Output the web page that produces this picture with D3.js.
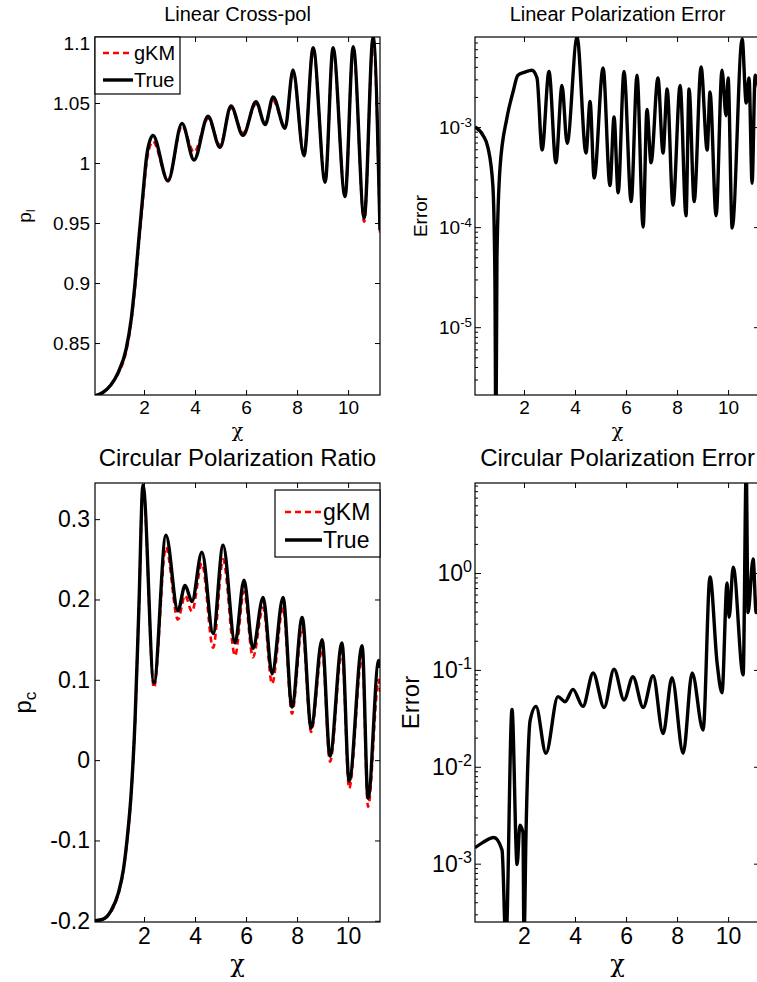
<!DOCTYPE html>
<html lang="en">
<head>
<meta charset="UTF-8">
<title>Linear / circular polarization</title>
<script src="https://d3js.org/d3.v7.min.js"></script>
<style>
    body { margin: 0; background: #fff; }
    svg { display: block; font-family: 'Liberation Sans', Arial, sans-serif; }
    .box { fill: none; stroke: #000; stroke-width: 1.2px; }
    .tick line { stroke: #000; stroke-width: 1px; }
    .true-line { fill: none; stroke: #000; stroke-width: 3.4px; stroke-linejoin: round; }
    .gkm-line { fill: none; stroke: #ff0000; stroke-width: 2.6px; stroke-dasharray: 6,4; }
</style>
</head>
<body>
<svg width="757" height="982"></svg>
<script>
// --- data ---
const chiLin = [0.08, 0.4, 0.7, 1.0, 1.3, 1.5, 1.65, 1.8, 1.95, 2.12, 2.35, 2.94, 3.49, 3.96, 4.51, 4.98, 5.41, 5.88,
    6.39, 6.75, 7.06, 7.53, 7.84, 8.27, 8.63, 9.1, 9.41, 9.88, 10.2, 10.63, 10.98, 11.25];
const linTrue = [0.806, 0.809, 0.815, 0.826, 0.845, 0.87, 0.9, 0.937, 0.972, 1.008, 1.023, 0.985, 1.033, 1.0025, 1.039, 1.013,
    1.0475, 1.023, 1.051, 1.032, 1.055, 1.029, 1.0775, 1.006, 1.096, 0.984, 1.096, 0.972, 1.097, 0.954, 1.105, 0.944];
const linGkm = [0.806, 0.809, 0.815, 0.825, 0.843, 0.868, 0.897, 0.933, 0.968, 1.003, 1.018, 0.986, 1.031, 1.009, 1.037, 1.015,
    1.046, 1.025, 1.049, 1.033, 1.052, 1.03, 1.076, 1.007, 1.095, 0.985, 1.095, 0.972, 1.096, 0.951, 1.104, 0.942];

const chiLinErr = [0.08, 0.39, 0.59, 0.78, 0.86, 0.9, 0.94, 1.06, 1.33, 1.57, 1.76, 2.04, 2.31, 2.51, 2.71, 2.98, 3.25, 3.49, 3.69,
    4.08, 4.43, 4.59, 4.75, 5.1, 5.37, 5.53, 5.69, 5.92, 6.2, 6.43, 6.67, 6.82, 6.98, 7.25, 7.45, 7.61, 7.84, 8.12, 8.35, 8.47,
    8.67, 8.94, 9.18, 9.29, 9.53, 9.76, 9.92, 10.0, 10.16, 10.55, 10.71, 10.82, 10.94, 11.06, 11.25];
const linErr = [1.0e-3, 8.3e-4, 6.2e-4, 2.6e-4, 3.2e-5, 6.3e-7, 5.0e-5, 3.9e-4, 1.23e-3, 2.24e-3, 3.3e-3, 3.55e-3, 3.7e-3, 3.1e-3,
    5.9e-4, 3.6e-3, 4.4e-4, 2.6e-3, 6.9e-4, 7.9e-3, 5.5e-4, 1.8e-3, 3.1e-4, 3.9e-3, 2.6e-4, 1.26e-3, 2.2e-4, 3.6e-3, 1.8e-4,
    3.3e-3, 1.0e-4, 1.5e-3, 4.4e-4, 3.1e-3, 5.5e-4, 2.4e-3, 1.66e-4, 2.6e-3, 1.3e-4, 2.4e-3, 1.8e-4, 4.0e-3, 5.9e-4, 2.24e-3,
    1.3e-4, 3.7e-3, 1.3e-3, 3.1e-3, 9.8e-5, 7.6e-3, 1.74e-3, 3.1e-3, 2.75e-4, 3.3e-3, 2.0e-3];

const chiCirc = [0.08, 0.4, 0.7, 1.0, 1.2, 1.35, 1.5, 1.65, 1.8, 1.96, 2.39, 2.86, 3.33, 3.61, 3.88, 4.27, 4.71, 5.1, 5.57, 5.92,
    6.27, 6.67, 7.02, 7.45, 7.8, 8.2, 8.55, 8.98, 9.29, 9.76, 10.04, 10.55, 10.78, 11.2, 11.25];
const circTrue = [-0.2, -0.198, -0.188, -0.165, -0.135, -0.095, -0.04, 0.05, 0.19, 0.3425, 0.096, 0.28, 0.186, 0.2175, 0.1975,
    0.259, 0.1575, 0.2675, 0.146, 0.224, 0.139, 0.2025, 0.1075, 0.2025, 0.066, 0.1775, 0.04, 0.15, 0.005, 0.146, -0.026,
    0.1425, -0.0475, 0.124, 0.115];
const circGkm = [-0.2, -0.198, -0.189, -0.166, -0.136, -0.097, -0.042, 0.048, 0.188, 0.34, 0.09, 0.265, 0.175, 0.205, 0.185,
    0.245, 0.14, 0.25, 0.13, 0.21, 0.128, 0.19, 0.095, 0.19, 0.058, 0.165, 0.035, 0.138, -0.002, 0.135, -0.035,
    0.13, -0.058, 0.1, 0.085];

const chiCircErr = [0.08, 0.39, 0.82, 1.14, 1.29, 1.53, 1.73, 1.84, 1.96, 2.0, 2.08, 2.24, 2.47, 2.86, 3.33, 3.61, 3.92, 4.31,
    4.71, 5.14, 5.53, 5.92, 6.27, 6.67, 7.06, 7.45, 7.8, 8.24, 8.59, 9.02, 9.29, 9.57, 9.76, 9.96, 10.04, 10.2, 10.59, 10.71,
    10.78, 10.98, 11.1, 11.25];
const circErr = [1.46e-3, 1.66e-3, 1.86e-3, 1.38e-3, 1.5e-4, 3.9e-2, 9.8e-4, 2.5e-3, 2.1e-3, 1.6e-4, 2.1e-3, 3.0e-2, 4.2e-2,
    1.38e-2, 5.3e-2, 4.7e-2, 6.3e-2, 4.2e-2, 9.3e-2, 4.1e-2, 1.02e-1, 4.9e-2, 8.5e-2, 4.1e-2, 8.7e-2, 2.2e-2, 8.3e-2, 1.38e-2,
    9.3e-2, 2.4e-2, 0.91, 0.117, 5.8e-2, 0.79, 0.35, 1.15, 8.9e-2, 12, 0.39, 1.4, 0.39, 0.52];

const chiRange = [0.08, 11.25];
const xTicks = [2, 4, 6, 8, 10];
const linYTicks = [0.85, 0.9, 0.95, 1, 1.05, 1.1];
const circYTicks = [-0.2, -0.1, 0, 0.1, 0.2, 0.3];
const linErrTicks = [1e-5, 1e-4, 1e-3];
const circErrTicks = [1e-3, 1e-2, 1e-1, 1];

const svg = d3.select("svg");
let clipId = 0;

function panel(cfg) {
    const g = svg.append("g");
    const fs = cfg.fs;
    const x = d3.scaleLinear().domain(chiRange).range([cfg.left, cfg.right]);
    const y = (cfg.log ? d3.scaleLog() : d3.scaleLinear()).domain(cfg.yDomain).range([cfg.bottom, cfg.top]);

    const id = "clip" + (clipId++);
    g.append("clipPath").attr("id", id).append("rect")
        .attr("x", cfg.left).attr("y", cfg.top)
        .attr("width", cfg.right - cfg.left).attr("height", cfg.bottom - cfg.top);

    // axes, ticks pointing inwards like matlab
    g.append("g").attr("transform", `translate(0,${cfg.bottom})`)
        .call(d3.axisBottom(x).tickValues(xTicks).tickSize(-5).tickSizeOuter(0).tickPadding(6).tickFormat(d => String(d)));
    g.append("g").attr("transform", `translate(0,${cfg.top})`)
        .call(d3.axisTop(x).tickValues(xTicks).tickSize(-5).tickSizeOuter(0).tickFormat(""));

    if (cfg.log) {
        const [lo, hi] = cfg.yDomain;
        const minor = [];
        for (let e = Math.floor(Math.log10(lo)); e <= Math.ceil(Math.log10(hi)); e++) {
            for (let m = 2; m <= 9; m++) {
                const v = m * Math.pow(10, e);
                if (v >= lo && v <= hi) minor.push(v);
            }
        }
        g.append("g").attr("transform", `translate(${cfg.left},0)`)
            .call(d3.axisLeft(y).tickValues(cfg.yTicks).tickSize(-6).tickSizeOuter(0).tickFormat(""));
        g.append("g").attr("transform", `translate(${cfg.left},0)`)
            .call(d3.axisLeft(y).tickValues(minor).tickSize(-3).tickSizeOuter(0).tickFormat(""));
        g.append("g").attr("transform", `translate(${cfg.right},0)`)
            .call(d3.axisRight(y).tickValues(cfg.yTicks).tickSize(-6).tickSizeOuter(0).tickFormat(""));
        g.append("g").attr("transform", `translate(${cfg.right},0)`)
            .call(d3.axisRight(y).tickValues(minor).tickSize(-3).tickSizeOuter(0).tickFormat(""));

        // 10^n labels
        cfg.yTicks.forEach(v => {
            const t = g.append("text")
                .attr("x", cfg.left - 3)
                .attr("y", y(v))
                .attr("dy", "0.36em")
                .attr("text-anchor", "end")
                .attr("font-size", fs);
            t.append("tspan").text("10");
            t.append("tspan").attr("dy", "-0.55em").attr("font-size", fs * 0.7)
                .text(String(Math.round(Math.log10(v))));
        });
    } else {
        g.append("g").attr("transform", `translate(${cfg.left},0)`)
            .call(d3.axisLeft(y).tickValues(cfg.yTicks).tickSize(-5).tickSizeOuter(0).tickPadding(5).tickFormat(d => String(d)));
        g.append("g").attr("transform", `translate(${cfg.right},0)`)
            .call(d3.axisRight(y).tickValues(cfg.yTicks).tickSize(-5).tickSizeOuter(0).tickFormat(""));
    }

    g.selectAll(".domain").remove();
    g.selectAll(".tick text").attr("font-size", fs).attr("fill", "#000");
    g.selectAll("g").attr("font-family", null);

    // curves
    const plot = g.append("g").attr("clip-path", `url(#${id})`);
    const line = d3.line().x(d => x(d[0])).y(d => y(d[1])).curve(d3.curveMonotoneX);
    cfg.series.forEach(s => {
        plot.append("path")
            .datum(d3.zip(s.chi, s.values))
            .attr("class", s.cls)
            .attr("d", line);
    });

    g.append("rect").attr("class", "box")
        .attr("x", cfg.left).attr("y", cfg.top)
        .attr("width", cfg.right - cfg.left).attr("height", cfg.bottom - cfg.top);

    // title + labels
    const cx = (cfg.left + cfg.right) / 2, cy = (cfg.top + cfg.bottom) / 2;
    g.append("text").attr("x", cx).attr("y", cfg.titleY)
        .attr("text-anchor", "middle").attr("font-size", cfg.titleFs).text(cfg.title);
    g.append("text").attr("x", cx).attr("y", cfg.chiY)
        .attr("text-anchor", "middle").attr("font-size", cfg.labelFs)
        .attr("font-family", "'DejaVu Serif', serif").text("χ");

    const yl = g.append("text")
        .attr("transform", `translate(${cfg.yLabelX},${cy}) rotate(-90)`)
        .attr("text-anchor", "middle").attr("font-size", cfg.labelFs);
    yl.append("tspan").text(cfg.yLabel);
    if (cfg.yLabelSub) {
        yl.append("tspan").attr("dy", "0.3em").attr("font-size", cfg.labelFs * 0.72).text(cfg.yLabelSub);
    }

    // legend
    if (cfg.legend) {
        const L = cfg.legend;
        g.append("rect").attr("x", L.x).attr("y", L.y).attr("width", L.w).attr("height", L.h)
            .attr("fill", "#fff").attr("stroke", "#000").attr("stroke-width", 1.2);
        cfg.series.forEach((s, i) => {
            const ry = L.y + L.row0 + i * L.step;
            g.append("line").attr("class", s.cls)
                .attr("x1", L.x + L.lx0).attr("x2", L.x + L.lx1)
                .attr("y1", ry).attr("y2", ry);
            g.append("text").attr("x", L.x + L.lx1 + 1).attr("y", ry).attr("dy", "0.36em")
                .attr("font-size", L.fs).text(s.name);
        });
    }
}

// top-left
panel({
    left: 95, right: 380, top: 37, bottom: 395, fs: 19, titleFs: 20, labelFs: 19,
    yDomain: [0.8067, 1.105], yTicks: linYTicks,
    title: "Linear Cross-pol", titleY: 21, chiY: 437,
    yLabel: "p", yLabelSub: "l", yLabelX: 31,
    series: [
        {name: "gKM", cls: "gkm-line", chi: chiLin, values: linGkm},
        {name: "True", cls: "true-line", chi: chiLin, values: linTrue}
    ],
    legend: {x: 95, y: 37, w: 85, h: 57, row0: 16, step: 27, lx0: 8, lx1: 38, fs: 20}
});

// top-right
panel({
    left: 475, right: 760, top: 37, bottom: 395, fs: 19, titleFs: 20, labelFs: 19, log: true,
    yDomain: [2.1e-6, 7.95e-3], yTicks: linErrTicks,
    title: "Linear Polarization Error", titleY: 21, chiY: 437,
    yLabel: "Error", yLabelX: 427,
    series: [{name: "Error", cls: "true-line", chi: chiLinErr, values: linErr}]
});

// bottom-left
panel({
    left: 95, right: 380, top: 483, bottom: 922, fs: 23, titleFs: 24, labelFs: 24,
    yDomain: [-0.2015, 0.345], yTicks: circYTicks,
    title: "Circular Polarization Ratio", titleY: 466, chiY: 972,
    yLabel: "p", yLabelSub: "c", yLabelX: 31,
    series: [
        {name: "gKM", cls: "gkm-line", chi: chiCirc, values: circGkm},
        {name: "True", cls: "true-line", chi: chiCirc, values: circTrue}
    ],
    legend: {x: 275, y: 490, w: 105, h: 67, row0: 22, step: 28, lx0: 10, lx1: 47, fs: 23}
});

// bottom-right
panel({
    left: 475, right: 760, top: 483, bottom: 922, fs: 23, titleFs: 24, labelFs: 24, log: true,
    yDomain: [2.5e-4, 8.5], yTicks: circErrTicks,
    title: "Circular Polarization Error", titleY: 466, chiY: 972,
    yLabel: "Error", yLabelX: 419,
    series: [{name: "Error", cls: "true-line", chi: chiCircErr, values: circErr}]
});
</script>
</body>
</html>
